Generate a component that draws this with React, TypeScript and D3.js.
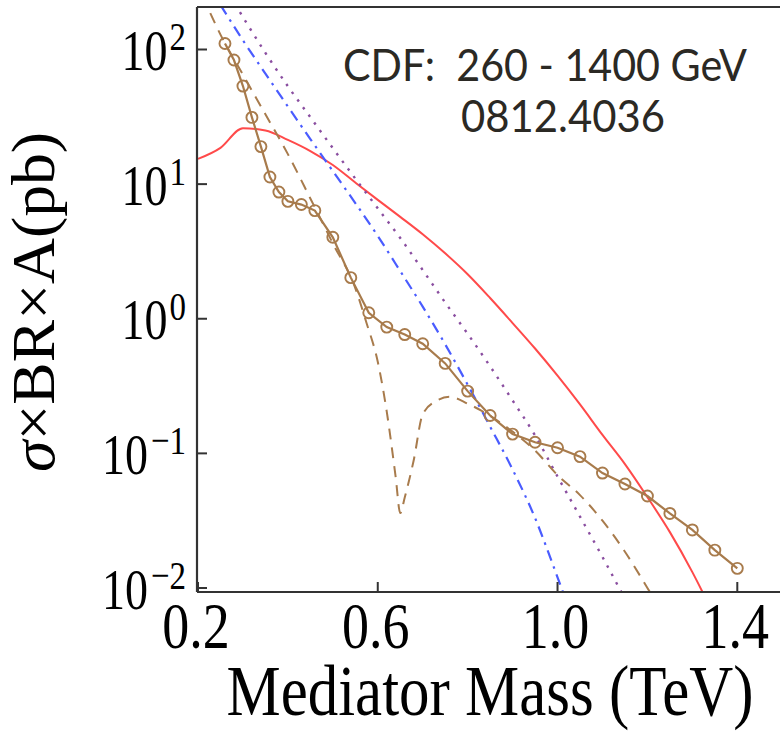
import React from 'react';
import * as d3 from 'd3';

// CDF dijet limit (open circles), mass in TeV, sigma x BR x A in pb
const cdfMass = [0.26, 0.28, 0.30, 0.32, 0.34, 0.36, 0.38, 0.40, 0.43, 0.46, 0.50, 0.54, 0.58, 0.62, 0.66, 0.70, 0.75, 0.80, 0.85, 0.90, 0.95, 1.00, 1.05, 1.10, 1.15, 1.20, 1.25, 1.30, 1.35, 1.40];
const cdfLimit = [110.8, 83.5, 53.5, 31.3, 19.0, 11.3, 8.73, 7.45, 7.05, 6.36, 4.03, 2.02, 1.108, 0.867, 0.763, 0.652, 0.466, 0.290, 0.191, 0.139, 0.121, 0.110, 0.0946, 0.0714, 0.0592, 0.0482, 0.0358, 0.0270, 0.0191, 0.0140];

// red solid curve
const redMass = [0.20, 0.25, 0.30, 0.35, 0.40, 0.45, 0.50, 0.55, 0.60, 0.65, 0.70, 0.75, 0.80, 0.85, 0.90, 0.95, 1.00, 1.05, 1.10, 1.15, 1.20, 1.25, 1.30, 1.35];
const redValue = [15.4, 18.6, 26.0, 25.0, 21.3, 17.6, 13.87, 10.28, 7.64, 5.71, 4.24, 3.06, 2.14, 1.425, 0.929, 0.601, 0.378, 0.231, 0.1372, 0.0833, 0.0473, 0.0260, 0.01312, 0.00608];

// blue dash-dot curve
const blueMass = [0.25, 0.30, 0.35, 0.40, 0.45, 0.50, 0.55, 0.60, 0.65, 0.70, 0.75, 0.80, 0.85, 0.90, 0.95, 1.00, 1.02];
const blueValue = [214, 117, 66.1, 37.7, 21.6, 12.5, 7.24, 4.12, 2.26, 1.23, 0.646, 0.324, 0.158, 0.0759, 0.0331, 0.0120, 0.0079];

// purple dotted curve
const purpleMass = [0.25, 0.30, 0.35, 0.40, 0.45, 0.50, 0.55, 0.60, 0.65, 0.70, 0.75, 0.80, 0.85, 0.90, 0.95, 1.00, 1.05, 1.10, 1.15];
const purpleValue = [331, 174, 94.4, 53.3, 31.4, 18.5, 11.0, 6.61, 3.98, 2.30, 1.32, 0.773, 0.443, 0.247, 0.136, 0.0673, 0.0339, 0.0170, 0.0083];

// brown dashed curve
const dashMass = [0.21, 0.25, 0.30, 0.35, 0.40, 0.45, 0.50, 0.55, 0.575, 0.60, 0.62, 0.64, 0.65, 0.66, 0.68, 0.70, 0.73, 0.76, 0.80, 0.85, 0.90, 0.95, 1.00, 1.05, 1.10, 1.15, 1.20, 1.25];
const dashValue = [251, 129, 65, 33, 16.7, 7.83, 3.63, 1.69, 0.93, 0.479, 0.204, 0.066, 0.036, 0.047, 0.089, 0.195, 0.245, 0.263, 0.234, 0.19, 0.145, 0.105, 0.069, 0.049, 0.0316, 0.0186, 0.010, 0.0052];

const xTicks = [0.2, 0.6, 1.0, 1.4];
const xTickLabels = ['0.2', '0.6', '1.0', '1.4'];
const yTickExponents = [2, 1, 0, -1, -2];

const BROWN = '#a87b4c';
const RED = '#ff4a4a';
const BLUE = '#4a5cff';
const PURPLE = '#8a4ea0';
const AXIS = '#333333';

export default function App() {
  const W = 780, H = 732;
  const left = 197, top = 7, bottom = 592, right = 790;
  const x = d3.scaleLinear().domain([0.2, 1.4]).range([198, 737.3]);
  const y = d3.scaleLog().domain([1e-2, 1e2]).range([588, 49.5]);

  const path = (xs: number[], ys: number[], curve: d3.CurveFactory) =>
    d3.line<number>()
      .x((i) => x(xs[i]))
      .y((i) => y(ys[i]))
      .curve(curve)(xs.map((_, i) => i)) || '';

  const serif = '"Liberation Serif", "Times New Roman", serif';
  const sans = "Lato, 'Open Sans', sans-serif";
  const sy = 1.22;

  return (
    <svg width={W} height={H} style={{ position: 'absolute', left: 0, top: 0, background: '#fff' }}>
      <defs>
        <clipPath id="plotClip">
          <rect x={left} y={top} width={right - left} height={bottom - top} />
        </clipPath>
      </defs>

      <g clipPath="url(#plotClip)" fill="none">
        <path d={path(redMass, redValue, d3.curveMonotoneX)} stroke={RED} strokeWidth={2} />
        <path d={path(blueMass, blueValue, d3.curveMonotoneX)} stroke={BLUE} strokeWidth={2.2} strokeDasharray="11 6 2.5 6" />
        <path d={path(purpleMass, purpleValue, d3.curveMonotoneX)} stroke={PURPLE} strokeWidth={2.4} strokeDasharray="2.5 7" />
        <path d={path(dashMass, dashValue, d3.curveMonotoneX)} stroke={BROWN} strokeWidth={2} strokeDasharray="11 8" />
        <path d={path(cdfMass, cdfLimit, d3.curveLinear)} stroke={BROWN} strokeWidth={2.2} />
        {cdfMass.map((m, i) => (
          <circle key={i} cx={x(m)} cy={y(cdfLimit[i])} r={5.5} stroke={BROWN} strokeWidth={1.9} fill="none" />
        ))}
      </g>

      {/* frame */}
      <line x1={left} x2={right} y1={top} y2={top} stroke={AXIS} strokeWidth={2} />
      <line x1={left} x2={left} y1={top} y2={bottom} stroke={AXIS} strokeWidth={2.2} />
      <line x1={left} x2={right} y1={bottom} y2={bottom} stroke={AXIS} strokeWidth={2.2} />

      {/* y ticks */}
      {yTickExponents.map((e) => (
        <line key={e} x1={left} x2={left + 10} y1={y(Math.pow(10, e))} y2={y(Math.pow(10, e))} stroke={AXIS} strokeWidth={2} />
      ))}
      {yTickExponents.map((e) => (
        <text key={'l' + e} transform={`translate(186,${y(Math.pow(10, e)) + 20.5}) scale(1,${sy})`}
          textAnchor="end" fontFamily={serif} fontSize={46} fill="#000">
          10<tspan dx={e < 0 ? 3 : 2} dy={-16} fontSize={33}>{e < 0 ? '\u2212' + Math.abs(e) : String(e)}</tspan>
        </text>
      ))}

      {/* x ticks */}
      {xTicks.map((t) => (
        <line key={t} x1={x(t)} x2={x(t)} y1={bottom} y2={bottom - 10} stroke={AXIS} strokeWidth={2} />
      ))}
      {xTicks.map((t, i) => (
        <text key={'xl' + t} transform={`translate(${x(t) - 2},648) scale(1,${sy})`}
          textAnchor="middle" fontFamily={serif} fontSize={54} fill="#000">
          {xTickLabels[i]}
        </text>
      ))}

      {/* axis titles */}
      <text transform={`translate(490,715) scale(1,1.2)`} textAnchor="middle" fontFamily={serif}
        fontSize={60} fill="#000" textLength={527} lengthAdjust="spacingAndGlyphs">
        Mediator Mass (TeV)
      </text>
      <text transform="translate(54,302) rotate(-90)" textAnchor="middle" fontFamily={serif}
        fontSize={61} fill="#000" textLength={340} lengthAdjust="spacingAndGlyphs">
        <tspan fontStyle="italic">σ</tspan>×BR×A(pb)
      </text>

      {/* annotation */}
      <text transform="translate(343,81) scale(1,1.1)" fontFamily={sans} fontSize={41} fill="#2b2924"
        textLength={404} lengthAdjust="spacingAndGlyphs" style={{ whiteSpace: 'pre' }}>
        {'CDF:  260 - 1400 GeV'}
      </text>
      <text transform="translate(461,132) scale(1,1.1)" fontFamily={sans} fontSize={41} fill="#2b2924"
        textLength={204} lengthAdjust="spacingAndGlyphs">
        0812.4036
      </text>
    </svg>
  );
}
